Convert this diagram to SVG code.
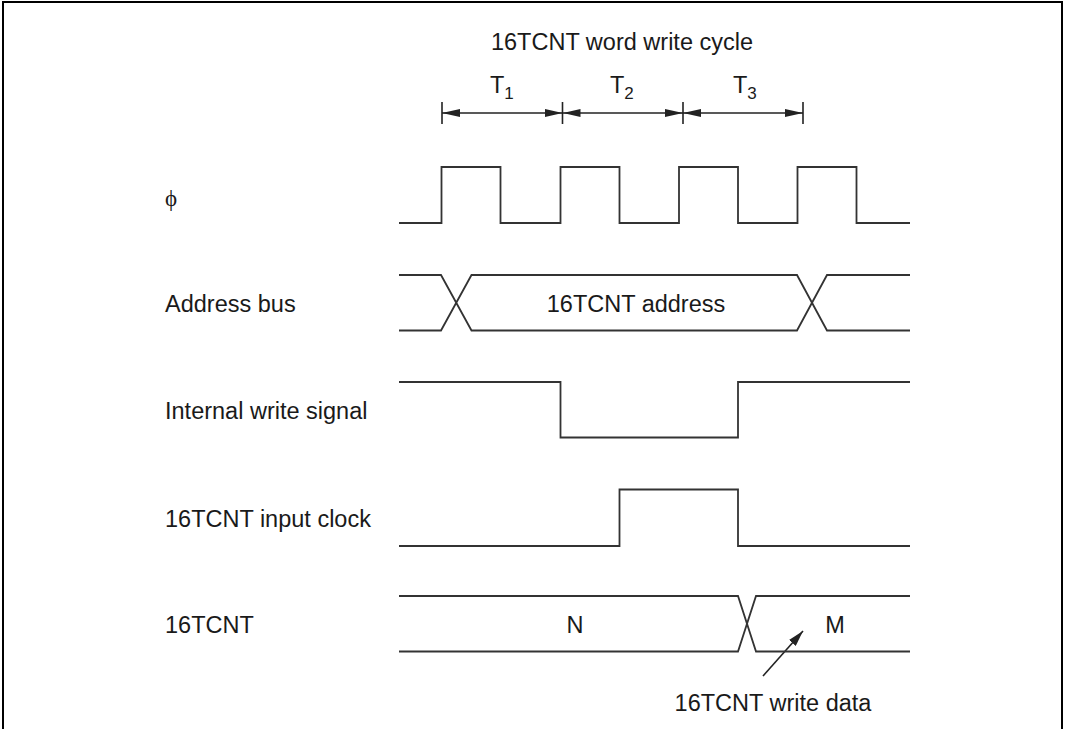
<svg xmlns="http://www.w3.org/2000/svg" width="1065" height="729" viewBox="0 0 1065 729">
<style>
.t{font-family:"Liberation Sans",Arial,sans-serif;font-size:23.5px;fill:#1a1a1a}
.w{fill:none;stroke:#333;stroke-width:1.8;stroke-linejoin:miter}
.d{fill:none;stroke:#222;stroke-width:1.6}
</style>
<defs>
<marker id="ah" viewBox="0 0 18 8" refX="18" refY="4" markerWidth="18" markerHeight="8" markerUnits="userSpaceOnUse" orient="auto-start-reverse"><path d="M0,0 L18,4 L0,8 Z" fill="#222"/></marker>
<marker id="ap" viewBox="0 0 16 9" refX="16" refY="4.5" markerWidth="16" markerHeight="9" markerUnits="userSpaceOnUse" orient="auto"><path d="M0,0 L16,4.5 L0,9 Z" fill="#222"/></marker>
</defs>
<rect width="1065" height="729" fill="#fff"/>
<path d="M3,729 V2 H1062 V729" fill="none" stroke="#000" stroke-width="2"/>
<g id="title"><text class="t" x="622" y="50" text-anchor="middle">16TCNT word write cycle</text></g>
<g id="states">
<text class="t" x="490" y="93">T<tspan font-size="17" dy="6">1</tspan></text>
<text class="t" x="610" y="93">T<tspan font-size="17" dy="6">2</tspan></text>
<text class="t" x="733" y="93">T<tspan font-size="17" dy="6">3</tspan></text>
</g>
<g id="connectors">
<path class="d" d="M442,102 V124 M562.5,102 V124 M683,102 V124 M803,102 V124"/>
<line class="d" x1="442" y1="113" x2="562.5" y2="113" marker-start="url(#ah)" marker-end="url(#ah)"/>
<line class="d" x1="562.5" y1="113" x2="683" y2="113" marker-start="url(#ah)" marker-end="url(#ah)"/>
<line class="d" x1="683" y1="113" x2="803" y2="113" marker-start="url(#ah)" marker-end="url(#ah)"/>
<line class="d" x1="763" y1="676" x2="803" y2="631" marker-end="url(#ap)"/>
</g>
<g id="phi">
<text x="165" y="206" font-family="'Liberation Serif','Times New Roman',serif" font-size="23" fill="#1a1a1a">ϕ</text>
<path class="w" d="M399,223 H441.5 V167 H500.5 V223 H560.5 V167 H619.5 V223 H679 V167 H738 V223 H797.5 V167 H856.5 V223 H910"/>
</g>
<g id="address-bus">
<text class="t" x="165" y="312">Address bus</text>
<path class="w" d="M399,275 H441 L471.5,330.5 H797 L827,275 H910 M399,330.5 H441 L471.5,275 H797 L827,330.5 H910"/>
<text class="t" x="636" y="312" text-anchor="middle">16TCNT address</text>
</g>
<g id="internal-write-signal">
<text class="t" x="165" y="419">Internal write signal</text>
<path class="w" d="M399,382 H560.5 V437.5 H738 V382 H910"/>
</g>
<g id="input-clock">
<text class="t" x="165" y="527">16TCNT input clock</text>
<path class="w" d="M399,546 H619.5 V489.5 H738 V546 H910"/>
</g>
<g id="tcnt">
<text class="t" x="165" y="633">16TCNT</text>
<path class="w" d="M399,596 H738 L756,651.5 H910 M399,651.5 H738 L756,596 H910"/>
<text class="t" x="575" y="633" text-anchor="middle">N</text>
<text class="t" x="835" y="633" text-anchor="middle">M</text>
<text class="t" x="773" y="711" text-anchor="middle">16TCNT write data</text>
</g>
</svg>
